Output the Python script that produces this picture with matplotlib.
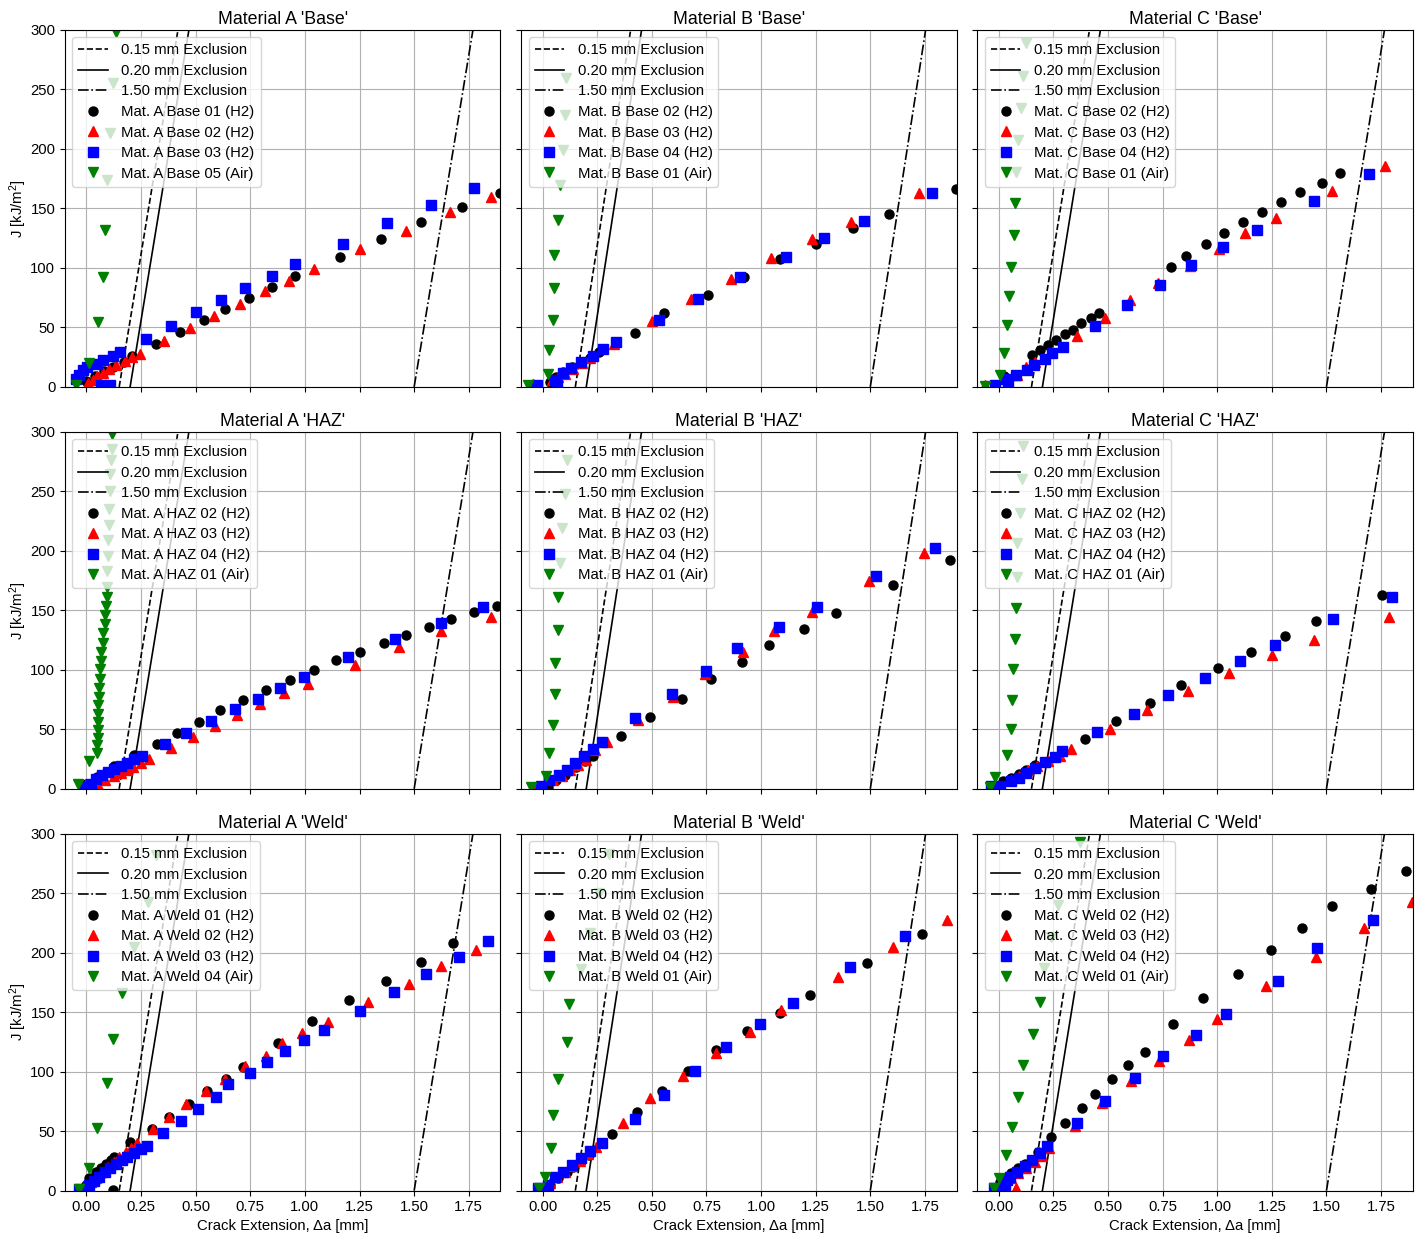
import matplotlib
matplotlib.use('Agg')
import matplotlib.pyplot as plt
import numpy as np

plt.rcParams['font.family'] = ['Liberation Sans', 'DejaVu Sans']
plt.rcParams['mathtext.fontset'] = 'custom'
plt.rcParams['mathtext.rm'] = 'Liberation Sans'
plt.rcParams['mathtext.it'] = 'Liberation Sans:italic'

# ---- data: crack extension [mm] and J [kJ/m^2] ----
materials = ['A', 'B', 'C']
conditions = ['Base', 'HAZ', 'Weld']

# slope of the exclusion lines (2*sigma_Y, kJ/m^2 per mm) for each material
excl_slope = [1115, 1185, 1130]
excl_offsets = [0.15, 0.20, 1.50]
excl_labels = ['0.15 mm Exclusion', '0.20 mm Exclusion', '1.50 mm Exclusion']

# Material A - Base
a_base_ids = ['01', '02', '03', '05']
a_base_01_da = [0.00, 0.04, 0.08, 0.12, 0.17, 0.21, 0.319, 0.430, 0.536, 0.634, 0.744, 0.850, 0.956, 1.160, 1.350, 1.532, 1.719, 1.892]
a_base_01_j = [5, 9, 13, 17, 21, 26, 36.4, 46.5, 56.6, 65.6, 75.1, 84.1, 93.1, 109, 124.2, 138.2, 150.8, 163.2]
a_base_02_da = [0.006, 0.03, 0.05, 0.075, 0.105, 0.135, 0.175, 0.21, 0.244, 0.357, 0.473, 0.584, 0.702, 0.816, 0.927, 1.042, 1.252, 1.464, 1.664, 1.852]
a_base_02_j = [3, 6, 9, 12, 15, 18, 21.5, 25, 28, 38.7, 49.3, 60, 70.1, 80.2, 89.1, 98.7, 115.8, 131.2, 146.6, 159.8]
a_base_03_da = [-0.046, -0.032, -0.017, 0.005, 0.05, 0.075, 0.068, 0.106, 0.121, 0.156, 0.274, 0.386, 0.501, 0.617, 0.728, 0.849, 0.956, 1.176, 1.376, 1.576, 1.775]
a_base_03_j = [7, 10, 14.3, 16.8, 19.6, 22.7, 1.5, 1.5, 26, 29.7, 40.4, 51.6, 62.8, 72.9, 83.5, 93.6, 102.9, 120.5, 137.6, 153.3, 166.8]
a_base_05_da = [-0.047, 0.014, 0.052, 0.077, 0.083, 0.092, 0.109, 0.123, 0.135]
a_base_05_j = [1.7, 19.9, 54.9, 92.5, 131.8, 173.8, 213, 255.7, 298.6]

# Material B - Base
b_base_ids = ['02', '03', '04', '01']
b_base_02_da = [0.034, 0.06, 0.095, 0.133, 0.175, 0.216, 0.259, 0.422, 0.555, 0.756, 0.922, 1.088, 1.252, 1.421, 1.585, 1.893]
b_base_02_j = [4.2, 8, 12.6, 16.8, 20.5, 24.7, 29.4, 44.9, 61.7, 77.1, 92.5, 107.1, 120.5, 133.7, 145.5, 166.5]
b_base_03_da = [-0.043, 0.041, 0.07, 0.102, 0.14, 0.18, 0.216, 0.326, 0.502, 0.681, 0.861, 1.047, 1.232, 1.413, 1.724]
b_base_03_j = [2.8, 5.6, 8, 10.7, 15, 20, 24.4, 36.4, 55.5, 73.5, 91.1, 108.5, 124.2, 139, 162.6]
b_base_04_da = [-0.027, 0.056, 0.064, 0.095, 0.13, 0.174, 0.229, 0.277, 0.335, 0.534, 0.712, 0.905, 1.113, 1.29, 1.471, 1.782]
b_base_04_j = [1.4, 5.6, 1.4, 11.8, 16, 21, 26.1, 32, 37.8, 56.6, 74.3, 92.2, 109.1, 125, 139.6, 163.2]
b_base_01_da = [-0.066, 0.026, 0.03, 0.046, 0.053, 0.053, 0.072, 0.079, 0.095, 0.102, 0.107]
b_base_01_j = [1.4, 10.7, 31.4, 56.1, 83.5, 111, 140.2, 169.6, 199, 228.5, 259.3]

# Material C - Base
c_base_ids = ['02', '03', '04', '01']
c_base_02_da = [0.025, 0.153, 0.189, 0.227, 0.261, 0.304, 0.339, 0.377, 0.422, 0.46, 0.79, 0.856, 0.948, 1.029, 1.117, 1.207, 1.294, 1.377, 1.48, 1.564]
c_base_02_j = [9, 26.6, 31.4, 35.6, 39.8, 44.3, 48.2, 53.3, 57.5, 61.7, 100.4, 110.2, 119.7, 129, 138.2, 146.6, 155.3, 163.7, 171.3, 179.4]
c_base_03_da = [-0.064, 0.043, 0.086, 0.127, 0.166, 0.242, 0.357, 0.485, 0.603, 0.729, 0.876, 1.006, 1.126, 1.268, 1.525, 1.768]
c_base_03_j = [1.4, 5.6, 9.8, 16.8, 21, 29.4, 42.6, 58.3, 72.9, 87.5, 101.5, 115.8, 129, 141.6, 164.6, 185.6]
c_base_04_da = [-0.015, 0.043, 0.031, 0.081, 0.13, 0.163, 0.212, 0.245, 0.296, 0.442, 0.586, 0.738, 0.879, 1.025, 1.183, 1.445, 1.696]
c_base_04_j = [1.4, 1.4, 6.4, 9.8, 14.6, 18.5, 23.8, 28.9, 33.6, 51, 68.7, 85.5, 102.3, 117.7, 132.3, 156.4, 178.6]
c_base_01_da = [-0.064, 0.005, 0.025, 0.04, 0.046, 0.055, 0.071, 0.074, 0.077, 0.089, 0.104, 0.113, 0.123]
c_base_01_j = [0.8, 9.8, 28.6, 51.9, 76.3, 100.9, 127.6, 154.2, 180.8, 207.5, 234.1, 261, 288.8]

# Material A - HAZ
a_haz_ids = ['02', '03', '04', '01']
a_haz_02_da = [0.0, 0.05, 0.127, 0.219, 0.322, 0.415, 0.515, 0.61, 0.717, 0.821, 0.931, 1.042, 1.144, 1.252, 1.36, 1.464, 1.567, 1.67, 1.775, 1.881]
a_haz_02_j = [4.2, 9.8, 18.8, 28.1, 37.4, 46.9, 56.2, 66, 74.4, 83.4, 91.3, 99.7, 107.9, 115.2, 122.5, 129.2, 136, 142.4, 148.6, 153.7]
a_haz_03_da = [0.0, 0.058, 0.086, 0.127, 0.158, 0.185, 0.211, 0.25, 0.288, 0.388, 0.486, 0.588, 0.691, 0.794, 0.905, 1.014, 1.23, 1.431, 1.625, 1.852]
a_haz_03_j = [4, 1.4, 7, 10.7, 13.5, 16, 18.3, 21.6, 25, 34.6, 43.5, 52.5, 62.1, 71.1, 80.1, 88.5, 103.7, 118.8, 132.6, 144.1]
a_haz_04_da = [-0.011, 0.02, 0.043, 0.07, 0.097, 0.127, 0.158, 0.188, 0.219, 0.253, 0.362, 0.458, 0.57, 0.679, 0.787, 0.888, 0.994, 1.198, 1.412, 1.621, 1.817]
a_haz_04_j = [1.4, 4.2, 8.4, 11.5, 14, 16.9, 19.4, 21.6, 25, 27.2, 37.4, 46.9, 56.7, 66.9, 75.8, 85.1, 94.1, 110.4, 125.6, 139.6, 152.5]
a_haz_01_da = [-0.038, 0.012, 0.047, 0.047, 0.051, 0.054, 0.054, 0.054, 0.055, 0.057, 0.058, 0.061, 0.063, 0.066, 0.069, 0.074, 0.077,
               0.083, 0.086, 0.089, 0.092, 0.094, 0.096, 0.098, 0.100, 0.102, 0.104, 0.107, 0.110, 0.113, 0.116, 0.119]
a_haz_01_j = [3.7, 23, 30, 36.5, 43, 49.7, 56.2, 63.2, 70.2, 77.2, 85.1, 92.7, 100.3, 107.6, 115.2, 122.8, 130.6,
              138.5, 146.1, 153.7, 161, 170, 183, 196, 209, 222, 235, 250, 265, 276, 286, 298]

# Material B - HAZ
b_haz_ids = ['02', '03', '04', '01']
b_haz_02_da = [0.026, 0.06, 0.102, 0.155, 0.194, 0.232, 0.358, 0.491, 0.637, 0.773, 0.912, 1.037, 1.198, 1.345, 1.605, 1.863]
b_haz_02_j = [1.4, 7, 11.2, 18.3, 23.3, 27.8, 44.1, 60.4, 75.8, 91.9, 106.5, 121.1, 134.6, 147.5, 171.1, 192.1]
b_haz_03_da = [-0.043, 0.049, 0.087, 0.125, 0.163, 0.2, 0.239, 0.293, 0.438, 0.599, 0.744, 0.919, 1.058, 1.232, 1.495, 1.748]
b_haz_03_j = [1.4, 7, 11, 15.4, 19.7, 24, 32.3, 39, 58.1, 77.2, 96.3, 114.6, 132.6, 148.6, 174.7, 198]
b_haz_04_da = [-0.005, 0.029, 0.076, 0.114, 0.149, 0.189, 0.229, 0.274, 0.421, 0.593, 0.75, 0.892, 1.082, 1.255, 1.524, 1.796]
b_haz_04_j = [2, 7, 11.5, 16, 21.6, 27.2, 33.7, 39.6, 59.3, 79.5, 99.2, 118.3, 135.7, 152.5, 179.2, 202.8]
b_haz_01_da = [-0.055, 0.018, 0.03, 0.049, 0.059, 0.059, 0.072, 0.072, 0.082, 0.091, 0.102, 0.113]
b_haz_01_j = [1.4, 10.4, 30, 53.7, 79.5, 105.9, 133.4, 161, 190.2, 219.1, 247.8, 276.7]

# Material C - HAZ
c_haz_ids = ['02', '03', '04', '01']
c_haz_02_da = [0.02, 0.058, 0.092, 0.127, 0.166, 0.393, 0.535, 0.692, 0.836, 1.002, 1.156, 1.311, 1.454, 1.753]
c_haz_02_j = [6.5, 9, 12.6, 16, 19.7, 42.1, 57.3, 72.5, 87.1, 101.7, 115.2, 128.4, 141, 163.2]
c_haz_03_da = [-0.021, 0.054, 0.092, 0.132, 0.173, 0.224, 0.281, 0.331, 0.508, 0.681, 0.867, 1.055, 1.25, 1.442, 1.788]
c_haz_03_j = [1.4, 7.6, 10.4, 15.4, 18.8, 23.3, 27.2, 33.4, 50.3, 66.6, 82.3, 97.5, 112.1, 125, 144.7]
c_haz_04_da = [-0.034, 0.005, 0.054, 0.092, 0.127, 0.166, 0.212, 0.258, 0.291, 0.452, 0.618, 0.773, 0.942, 1.106, 1.264, 1.531, 1.801]
c_haz_04_j = [2, 2, 6.2, 9.3, 13.5, 17.7, 22.2, 26.7, 31.7, 47.8, 63.2, 78.7, 93.3, 107.3, 120.8, 142.4, 161.5]
c_haz_01_da = [-0.041, -0.018, 0.037, 0.058, 0.061, 0.067, 0.074, 0.08, 0.086, 0.086, 0.097, 0.105, 0.112]
c_haz_01_j = [1.4, 9.8, 28.1, 50.6, 75, 100.3, 126.1, 152.2, 178.4, 206.5, 231.7, 260, 288.5]

# Material A - Weld
a_weld_ids = ['01', '02', '03', '04']
a_weld_01_da = [0.0, 0.012, 0.043, 0.066, 0.089, 0.112, 0.127, 0.12, 0.199, 0.299, 0.38, 0.469, 0.553, 0.64, 0.718, 0.875, 1.032, 1.2, 1.371, 1.532, 1.677]
a_weld_01_j = [4.8, 10.9, 16, 18.8, 22.1, 25.8, 28.6, 0.5, 40.7, 51.9, 62.2, 72.9, 83.8, 93.9, 104, 123.9, 142.7, 160.4, 176.6, 192.6, 208]
a_weld_02_da = [-0.011, 0.02, 0.043, 0.07, 0.097, 0.127, 0.15, 0.181, 0.204, 0.231, 0.303, 0.38, 0.456, 0.548, 0.633, 0.725, 0.82, 0.893, 0.985, 1.104, 1.288, 1.477, 1.625, 1.785]
a_weld_02_j = [3.4, 7.6, 10.9, 16, 20.2, 23.8, 28.6, 32.2, 35.6, 39.8, 51.9, 62.2, 72.9, 83.8, 93.9, 104.6, 113.5, 124.2, 132.6, 141.6, 158.4, 173.5, 189, 202.7]
a_weld_03_da = [-0.034, 0.012, 0.035, 0.058, 0.086, 0.109, 0.135, 0.165, 0.188, 0.219, 0.25, 0.277, 0.352, 0.432, 0.513, 0.591, 0.648, 0.748, 0.827, 0.908, 0.996, 1.089, 1.252, 1.409, 1.556, 1.706, 1.838]
a_weld_03_j = [1.4, 4.8, 8.1, 11.8, 15.4, 18.8, 22.1, 25.5, 28.6, 31.4, 34.8, 37.8, 48.2, 58.9, 68.7, 79.1, 89.4, 99.2, 108.5, 117.7, 127, 135.1, 151.4, 166.8, 181.9, 196.5, 210]
a_weld_04_da = [-0.034, 0.012, 0.05, 0.092, 0.124, 0.165, 0.219, 0.28, 0.319]
a_weld_04_j = [1.1, 18.8, 52.4, 90.3, 127.3, 166, 205.2, 243, 282.3]

# Material B - Weld
b_weld_ids = ['02', '03', '04', '01']
b_weld_02_da = [0.034, 0.07, 0.11, 0.14, 0.175, 0.213, 0.32, 0.431, 0.547, 0.665, 0.796, 0.934, 1.085, 1.223, 1.486, 1.738]
b_weld_02_j = [4.8, 10.5, 16, 20.2, 25, 30, 47.4, 65.9, 83.8, 100.9, 118.3, 134.3, 149.7, 164.6, 191.5, 215.6]
b_weld_03_da = [-0.012, 0.034, 0.064, 0.102, 0.137, 0.171, 0.209, 0.244, 0.366, 0.491, 0.643, 0.796, 0.948, 1.09, 1.352, 1.604, 1.851]
b_weld_03_j = [1.4, 6.2, 11.2, 16, 20.7, 25.2, 30.6, 37, 56.6, 77.7, 96.7, 115.5, 133.7, 151.9, 179.4, 205.2, 227.1]
b_weld_04_da = [-0.02, 0.026, 0.059, 0.095, 0.133, 0.174, 0.216, 0.274, 0.424, 0.556, 0.697, 0.84, 0.997, 1.146, 1.405, 1.66]
b_weld_04_j = [2, 4.8, 11.8, 16, 21.6, 27.8, 33.4, 39.8, 60.3, 80.5, 100.9, 121.1, 140.2, 158.1, 187.8, 214.2]
b_weld_01_da = [-0.015, 0.011, 0.037, 0.046, 0.072, 0.114, 0.122, 0.178, 0.216, 0.26, 0.305]
b_weld_01_j = [2.5, 11.8, 35.6, 63.6, 93.9, 125.3, 156.7, 186.2, 216.4, 250, 282.9]

# Material C - Weld
c_weld_ids = ['02', '03', '04', '01']
c_weld_02_da = [0.005, 0.028, 0.058, 0.089, 0.12, 0.178, 0.239, 0.304, 0.38, 0.442, 0.518, 0.592, 0.669, 0.799, 0.937, 1.094, 1.247, 1.39, 1.526, 1.702, 1.865]
c_weld_02_j = [7.6, 10.9, 15.1, 18.8, 22.1, 32.8, 44.9, 56.6, 69.2, 81.3, 93.6, 105.4, 116.9, 140.2, 161.8, 182.2, 201.9, 220.6, 238.9, 253.4, 268.3]
c_weld_03_da = [-0.011, 0.025, 0.058, 0.078, 0.089, 0.127, 0.166, 0.199, 0.23, 0.35, 0.472, 0.606, 0.733, 0.87, 0.997, 1.224, 1.454, 1.672, 1.891]
c_weld_03_j = [2.5, 7, 10.9, 2, 14.6, 18.8, 23.8, 29.4, 35.6, 54.4, 73.5, 92.2, 109.1, 126.7, 144.1, 172.1, 196.8, 220.6, 242.5]
c_weld_04_da = [-0.021, 0.028, 0.04, 0.051, 0.086, 0.12, 0.153, 0.189, 0.219, 0.357, 0.488, 0.626, 0.753, 0.902, 1.038, 1.279, 1.457, 1.715]
c_weld_04_j = [2, 4.8, 9, 11.8, 16, 21, 25.8, 31.4, 37.6, 56.6, 75.7, 94.5, 113.5, 130.9, 148.6, 176.6, 203.8, 227.1]
c_weld_01_da = [-0.021, 0.002, 0.035, 0.061, 0.089, 0.112, 0.158, 0.189, 0.209, 0.24, 0.273, 0.373]
c_weld_01_j = [2.5, 10.9, 30, 53.8, 79.1, 105.7, 131.8, 159, 187, 213, 240.3, 292.7]

# panel table built from the lists above (rows: condition, cols: material)
panels = {
    ('A', 'Base'): (a_base_ids, [(a_base_01_da, a_base_01_j), (a_base_02_da, a_base_02_j), (a_base_03_da, a_base_03_j), (a_base_05_da, a_base_05_j)]),
    ('B', 'Base'): (b_base_ids, [(b_base_02_da, b_base_02_j), (b_base_03_da, b_base_03_j), (b_base_04_da, b_base_04_j), (b_base_01_da, b_base_01_j)]),
    ('C', 'Base'): (c_base_ids, [(c_base_02_da, c_base_02_j), (c_base_03_da, c_base_03_j), (c_base_04_da, c_base_04_j), (c_base_01_da, c_base_01_j)]),
    ('A', 'HAZ'): (a_haz_ids, [(a_haz_02_da, a_haz_02_j), (a_haz_03_da, a_haz_03_j), (a_haz_04_da, a_haz_04_j), (a_haz_01_da, a_haz_01_j)]),
    ('B', 'HAZ'): (b_haz_ids, [(b_haz_02_da, b_haz_02_j), (b_haz_03_da, b_haz_03_j), (b_haz_04_da, b_haz_04_j), (b_haz_01_da, b_haz_01_j)]),
    ('C', 'HAZ'): (c_haz_ids, [(c_haz_02_da, c_haz_02_j), (c_haz_03_da, c_haz_03_j), (c_haz_04_da, c_haz_04_j), (c_haz_01_da, c_haz_01_j)]),
    ('A', 'Weld'): (a_weld_ids, [(a_weld_01_da, a_weld_01_j), (a_weld_02_da, a_weld_02_j), (a_weld_03_da, a_weld_03_j), (a_weld_04_da, a_weld_04_j)]),
    ('B', 'Weld'): (b_weld_ids, [(b_weld_02_da, b_weld_02_j), (b_weld_03_da, b_weld_03_j), (b_weld_04_da, b_weld_04_j), (b_weld_01_da, b_weld_01_j)]),
    ('C', 'Weld'): (c_weld_ids, [(c_weld_02_da, c_weld_02_j), (c_weld_03_da, c_weld_03_j), (c_weld_04_da, c_weld_04_j), (c_weld_01_da, c_weld_01_j)]),
}

env = ['H2', 'H2', 'H2', 'Air']
markers = ['o', '^', 's', 'v']
colors = ['black', 'red', 'blue', 'green']
excl_styles = ['--', '-', '-.']

fig, axes = plt.subplots(3, 3, sharex=True, sharey=True, figsize=(14.22, 12.34), dpi=100)
fig.subplots_adjust(left=0.0457, right=0.9935, bottom=0.0351, top=0.9757, wspace=0.0475, hspace=0.126)

j_line = np.array([0, 400])

for r, cond in enumerate(conditions):
    for c, mat in enumerate(materials):
        ax = axes[r, c]
        # exclusion lines
        for off, ls, lab in zip(excl_offsets, excl_styles, excl_labels):
            ax.plot(off + j_line / excl_slope[c], j_line, color='black', ls=ls, lw=1.2, label=lab)
        ids, series = panels[(mat, cond)]
        for k, (da, j) in enumerate(series):
            ax.plot(da, j, ls='', marker=markers[k], color=colors[k], ms=6.5,
                    label=f'Mat. {mat} {cond} {ids[k]} ({env[k]})')
        ax.set_title(f"Material {mat} '{cond}'", fontsize=12.8, pad=4)
        ax.grid(True, color='#b0b0b0', lw=0.8)
        ax.legend(loc='upper left', fontsize=10.7, labelspacing=0.44, handletextpad=0.9)
        ax.tick_params(labelsize=10.7)
        if c == 0:
            ax.set_ylabel('J [kJ/m$^2$]', fontsize=10.7, labelpad=1)
        if r == 2:
            ax.set_xlabel('Crack Extension, Δa [mm]', fontsize=10.7, labelpad=3)

axes[0, 0].set_xlim(-0.098, 1.895)
axes[0, 0].set_ylim(0, 300)
axes[0, 0].set_xticks([0.0, 0.25, 0.5, 0.75, 1.0, 1.25, 1.5, 1.75])
axes[0, 0].set_yticks([0, 50, 100, 150, 200, 250, 300])

fig.savefig('out.png', dpi=100)
